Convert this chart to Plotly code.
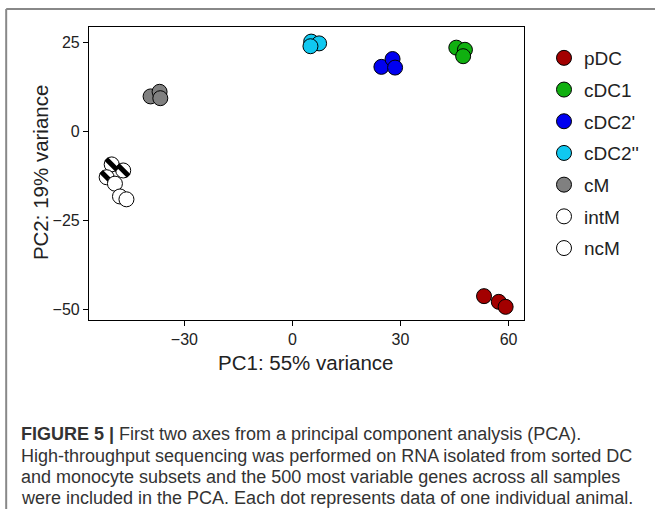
import plotly.graph_objects as go

groups = ["pDC", "cDC1", "cDC2'", "cDC2''", "cM", "intM", "ncM"]
colors = ["#a30000", "#10b010", "#0000f0", "#10c8f0", "#808080", "#ffffff", "#ffffff"]
pc1 = {
    "pDC": [53.2, 57.3, 59.2],
    "cDC1": [45.5, 47.9, 47.4],
    "cDC2'": [24.7, 27.8, 28.5],
    "cDC2''": [5.2, 7.4, 5.0],
    "cM": [-39.4, -36.9, -36.7],
    "intM": [-50.2, -47.0, -51.6],
    "ncM": [-49.3, -47.9, -46.1],
}
pc2 = {
    "pDC": [-46.2, -47.8, -49.2],
    "cDC1": [23.6, 23.0, 21.2],
    "cDC2'": [18.2, 20.4, 18.0],
    "cDC2''": [25.3, 24.8, 24.0],
    "cM": [9.9, 11.2, 9.4],
    "intM": [-9.2, -10.9, -12.8],
    "ncM": [-14.6, -18.2, -19.0],
}
x_ticks = [-30, 0, 30, 60]
y_ticks = [-50, -25, 0, 25]
caption_lines = [
    "<b>FIGURE 5 |</b> First two axes from a principal component analysis (PCA).",
    "High-throughput sequencing was performed on RNA isolated from sorted DC",
    "and monocyte subsets and the 500 most variable genes across all samples",
    "were included in the PCA. Each dot represents data of one individual animal.",
]

W, H = 655, 509
L, R, T, B = 89, 525, 27, 320
pw, ph = R - L, B - T


def px(x):
    return (x - L) / pw


def py(y):
    return (B - y) / ph


fig = go.Figure()
for g, c in zip(groups, colors):
    fig.add_trace(go.Scatter(
        x=pc1[g], y=pc2[g], mode="markers", name=g, legendgroup=g,
        marker=dict(size=15, color=c, line=dict(color="black", width=1)),
    ))
    if g == "intM":
        fig.add_trace(go.Scatter(
            x=pc1[g], y=pc2[g], mode="markers", name=g, legendgroup=g,
            showlegend=False,
            marker=dict(symbol="line-nw", size=11, line=dict(color="black", width=5)),
        ))

axis_common = dict(showgrid=False, zeroline=False, showline=True, linecolor="black",
                   linewidth=1.2, mirror=True, ticks="outside", ticklen=5,
                   tickcolor="black", tickfont=dict(family="Arial", size=16, color="#222"))
fig.update_xaxes(range=[-56.5, 64.3], tickvals=x_ticks, **axis_common)
fig.update_yaxes(range=[-52.9, 29.4], tickvals=y_ticks, **axis_common)

annotations = [
    dict(text="PC1: 55% variance", x=px(306), y=py(362), xref="paper", yref="paper",
         showarrow=False, font=dict(size=20.5, family="Arial", color="#222"),
         xanchor="center", yanchor="middle"),
    dict(text="PC2: 19% variance", x=px(40), y=py(173), xref="paper", yref="paper",
         showarrow=False, textangle=-90, font=dict(size=20.5, family="Arial", color="#222"),
         xanchor="center", yanchor="middle"),
]
line_y = [434, 456, 477, 498]
for txt, yy in zip(caption_lines, line_y):
    annotations.append(dict(text=txt, x=px(19), y=py(yy), xref="paper", yref="paper",
                            showarrow=False, align="left", xanchor="left", yanchor="middle",
                            font=dict(size=18, family="Arial", color="#333")))

fig.update_layout(
    width=W, height=H,
    margin=dict(l=L, r=W - R, t=T, b=H - B),
    plot_bgcolor="white", paper_bgcolor="white",
    font=dict(family="Arial", color="#222"),
    legend=dict(x=px(544), y=py(39), xanchor="left", yanchor="top",
                font=dict(size=19, family="Arial", color="#222"),
                traceorder="grouped", tracegroupgap=4, itemwidth=30,
                bgcolor="rgba(0,0,0,0)"),
    annotations=annotations,
    shapes=[
        dict(type="line", xref="paper", yref="paper", x0=px(6), x1=px(660), y0=py(9), y1=py(9),
             line=dict(color="#888", width=2)),
        dict(type="line", xref="paper", yref="paper", x0=px(6), x1=px(6), y0=py(9), y1=py(515),
             line=dict(color="#888", width=2)),
    ],
)

fig.write_html("out.html")
